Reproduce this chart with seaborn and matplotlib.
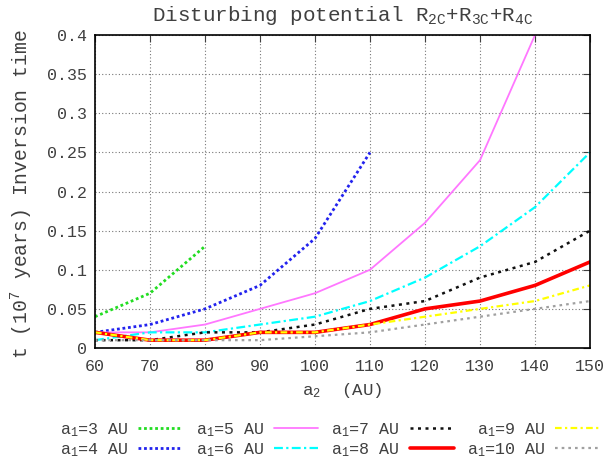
import numpy as np
import pandas as pd
import matplotlib
matplotlib.use("Agg")
import matplotlib.pyplot as plt
import seaborn as sns

a2 = [60, 70, 80, 90, 100, 110, 120, 130, 140, 150]
t_a1_3 = [0.04, 0.07, 0.13]
t_a1_4 = [0.02, 0.03, 0.05, 0.08, 0.14, 0.25]
t_a1_5 = [0.02, 0.02, 0.03, 0.05, 0.07, 0.10, 0.16, 0.24, 0.40]
t_a1_6 = [0.01, 0.02, 0.02, 0.03, 0.04, 0.06, 0.09, 0.13, 0.18, 0.25]
t_a1_7 = [0.01, 0.01, 0.02, 0.02, 0.03, 0.05, 0.06, 0.09, 0.11, 0.15]
t_a1_8 = [0.02, 0.01, 0.01, 0.02, 0.02, 0.03, 0.05, 0.06, 0.08, 0.11]
t_a1_9 = [0.02, 0.01, 0.01, 0.02, 0.02, 0.03, 0.04, 0.05, 0.06, 0.08]
t_a1_10 = [0.01, 0.01, 0.01, 0.01, 0.015, 0.02, 0.03, 0.04, 0.05, 0.06]

series = [
    ("a$_1$=3 AU", t_a1_3, "#22dd22", (0, (1, 1)), 2.0),
    ("a$_1$=4 AU", t_a1_4, "#2222ee", (0, (1, 1)), 2.0),
    ("a$_1$=5 AU", t_a1_5, "#ff77ff", "-", 1.3),
    ("a$_1$=6 AU", t_a1_6, "#00ffff", (0, (4, 1.5, 1, 1.5)), 1.6),
    ("a$_1$=7 AU", t_a1_7, "#111111", (0, (1.2, 1.8)), 1.8),
    ("a$_1$=8 AU", t_a1_8, "#ff0000", "-", 2.6),
    ("a$_1$=9 AU", t_a1_9, "#ffff00", (0, (3, 1.5, 1, 1.5)), 1.6),
    ("a$_1$=10 AU", t_a1_10, "#a0a0a0", (0, (1.2, 1.8)), 1.6),
]

sns.set_theme(style="white")
plt.rcParams['font.family'] = ['Liberation Mono', 'DejaVu Sans']
plt.rcParams['mathtext.fontset'] = 'custom'
plt.rcParams['mathtext.rm'] = 'Liberation Mono'
plt.rcParams['mathtext.it'] = 'Liberation Mono'
plt.rcParams['mathtext.default'] = 'rm'

TXT = "#404040"
fig = plt.figure(figsize=(6.13, 4.58), dpi=100)
ax = fig.add_axes([95/613, 1-348/458, (590-95)/613, (348-35)/458])

for label, vals, color, ls, lw in series:
    df = pd.DataFrame({"a2": a2[:len(vals)], "t": vals})
    sns.lineplot(data=df, x="a2", y="t", ax=ax, color=color, linestyle=ls,
                 linewidth=lw, label=label, legend=False)

ax.set_xlim(60, 150)
ax.set_ylim(0, 0.4)
ax.set_xticks(a2)
ax.set_yticks(np.arange(0, 0.41, 0.05))
ax.yaxis.set_major_formatter(matplotlib.ticker.FormatStrFormatter('%g'))
ax.grid(True, color="#777777", linestyle=(0, (1, 2)), linewidth=0.8)
ax.tick_params(direction="in", length=5, width=0.8, top=True, right=True,
               labelsize=12, colors=TXT)
ax.tick_params(axis="x", pad=8)
ax.tick_params(axis="y", pad=6)
for s in ax.spines.values():
    s.set_color("black")
    s.set_linewidth(1.2)

ax.set_title("Disturbing potential R$_{2C}$+R$_{3C}$+R$_{4C}$", fontsize=15,
             color=TXT, pad=10)
ax.set_xlabel("a$_2$  (AU)", fontsize=12.5, color=TXT, labelpad=5)
ax.set_ylabel("t (10$^7$ years) Inversion time", fontsize=14.2, color=TXT)
ax.yaxis.set_label_coords(-0.122, 0.49)

handles, labels = ax.get_legend_handles_labels()
fig.legend(handles, labels, loc="center", bbox_to_anchor=(0.538, 1-440/458),
           ncol=4, frameon=False, markerfirst=False, fontsize=12,
           handlelength=2.65, columnspacing=0.8, handletextpad=0.6,
           labelspacing=0.12, labelcolor=TXT)

fig.savefig("out.png", dpi=100)
